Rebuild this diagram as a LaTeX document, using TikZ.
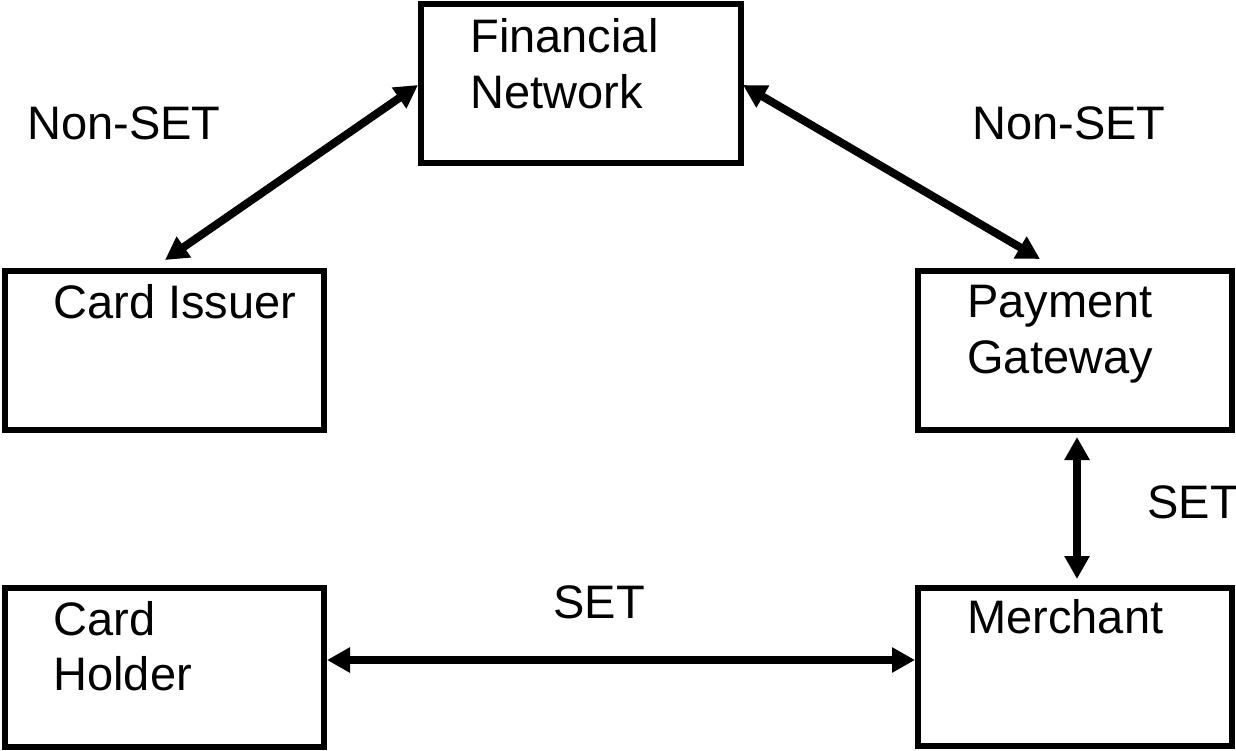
\documentclass[tikz,border=0pt]{standalone}
\usepackage{fontspec}
\setmainfont{Liberation Sans}
\usetikzlibrary{arrows.meta}
\begin{document}
\begin{tikzpicture}[x=0.5pt,y=-0.5pt,
  box/.style={draw, line width=3pt, inner sep=0pt, minimum height=79.5pt},
  lbl/.style={anchor=base west, inner sep=0pt, font=\fontsize{23.5pt}{28pt}\selectfont},
  arr/.style={line width=4pt, {Triangle[length=11.5pt,width=12pt]}-{Triangle[length=11.5pt,width=12pt]}}]
\useasboundingbox (0,0) rectangle (1236,750);
% boxes
\node[box, minimum width=160pt] (FN) at (581,83.5) {};
\node[box, minimum width=159.5pt] (CI) at (164.5,350.5) {};
\node[box, minimum width=157pt] (PG) at (1075,350.5) {};
\node[box, minimum width=159.5pt] (CH) at (164.5,667.5) {};
\node[box, minimum width=157pt, minimum height=79pt] (M) at (1075,667) {};
% box texts
\node[lbl] (t1) at (470,52) {Financial};
\node[lbl] (t2) at (470,108) {Network};
\node[lbl] (t3) at (53,318) {Card Issuer};
\node[lbl] (t4) at (967,317) {Payment};
\node[lbl] (t5) at (967,373) {Gateway};
\node[lbl] (t6) at (53,635) {Card};
\node[lbl] (t7) at (53,690) {Holder};
\node[lbl] (t8) at (967,633) {Merchant};
% connector labels
\node[lbl] (l1) at (27,139) {Non-SET};
\node[lbl] (l2) at (972,139) {Non-SET};
\node[lbl] (l3) at (553,618) {SET};
\node[lbl] (l4) at (1147,518) {SET};
% free ends
\coordinate (ciT) at (165,260);
\coordinate (pgT) at (1040,259);
\coordinate (fnL) at (418,85);
\coordinate (fnR) at (743,85);
\coordinate (pgB) at (1077,437);
\coordinate (mT) at (1077,579);
% connectors
\draw[arr] (ciT) -- (fnL);
\draw[arr] (fnR) -- (pgT);
\draw[arr] (pgB) -- (mT);
\draw[arr] (CH.east |- 0,660) -- (M.west |- 0,660);
\end{tikzpicture}
\end{document}
